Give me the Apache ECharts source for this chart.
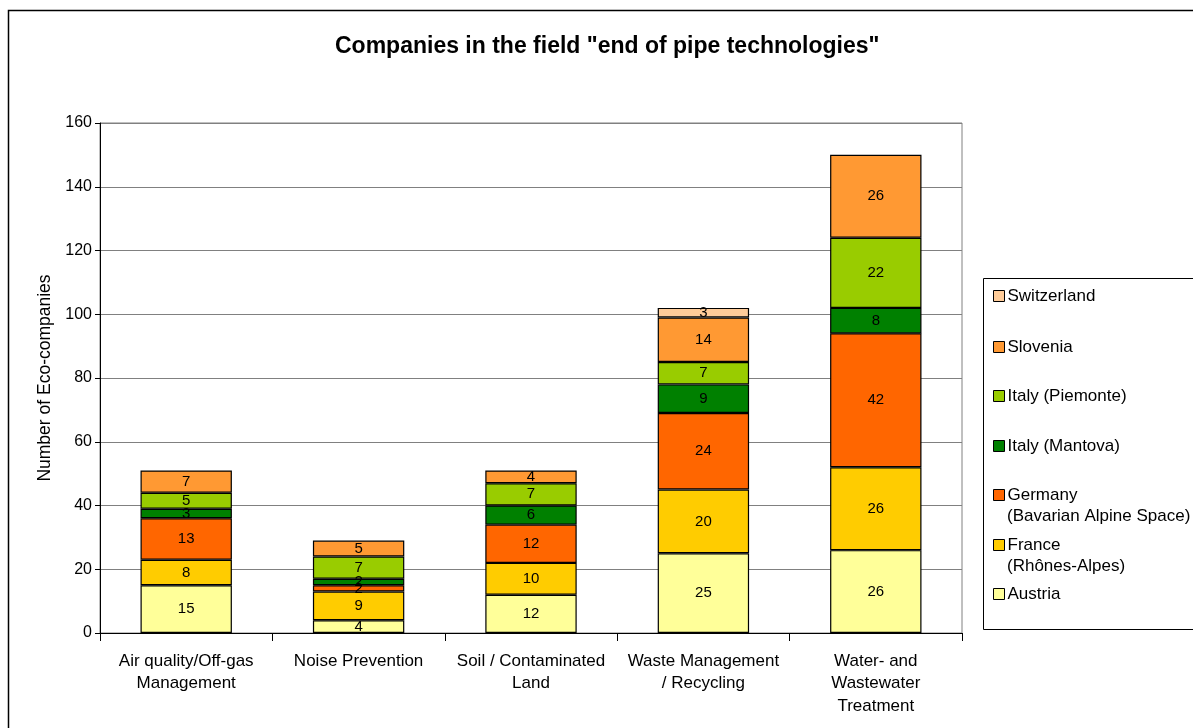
<!DOCTYPE html>
<html>
<head>
<meta charset="utf-8">
<script src="https://cdn.jsdelivr.net/npm/echarts@6/dist/echarts.min.js"></script>
<style>
  html, body { margin: 0; padding: 0; background: #fff; }
  #main { width: 1193px; height: 728px; }
</style>
</head>
<body>
<div id="main"></div>
<script>
var chart = echarts.init(document.getElementById('main'));

var categories = ['Air quality/Off-gas\nManagement', 'Noise Prevention', 'Soil / Contaminated\nLand', 'Waste Management\n/ Recycling', 'Water- and\nWastewater\nTreatment'];

var austria     = [15, 4, 12, 25, 26];
var france      = [8, 9, 10, 20, 26];
var germany     = [13, 2, 12, 24, 42];
var mantova     = [3, 2, 6, 9, 8];
var piemonte    = [5, 7, 7, 7, 22];
var slovenia    = [7, 5, 4, 14, 26];
var switzerland = [null, null, null, 3, null];

var seriesNames = ['Austria', 'France', 'Germany', 'Italy (Mantova)', 'Italy (Piemonte)', 'Slovenia', 'Switzerland'];
var subNames = { 'France': '(Rhônes-Alpes)', 'Germany': '(Bavarian Alpine Space)' };
var seriesData = [austria, france, germany, mantova, piemonte, slovenia, switzerland];
var colors = ['#FFFF99', '#FFCC00', '#FF6600', '#008000', '#99CC00', '#FF9933', '#FFCC99'];

var font = 'Liberation Sans, Arial, sans-serif';

var series = seriesNames.map(function (name, i) {
    return {
        name: name,
        type: 'bar',
        stack: 'total',
        barCategoryGap: '47%',
        data: seriesData[i],
        itemStyle: { color: colors[i], borderColor: '#000', borderWidth: 1.2 },
        label: {
            show: true,
            position: 'inside',
            color: '#000',
            fontFamily: font,
            fontSize: 15,
            formatter: function (p) { return p.value ? p.value : ''; }
        },
        emphasis: { disabled: true }
    };
});

// one legend per entry, listed top to bottom in reverse stack order
var legendRows = [296, 347, 396, 446, 495, 545, 594];
var legends = [];
var graphics = [
    { type: 'rect', shape: { x: 8.5, y: 10.5, width: 1250, height: 800 },
      style: { fill: 'none', stroke: '#000', lineWidth: 1.5 }, silent: true },
    { type: 'rect', shape: { x: 983.5, y: 278.5, width: 260, height: 351 },
      style: { fill: 'none', stroke: '#000', lineWidth: 1 }, silent: true, z: -1 }
];
for (var k = 0; k < seriesNames.length; k++) {
    var name = seriesNames[seriesNames.length - 1 - k];
    legends.push({
        data: [name],
        left: 988,
        top: legendRows[k] - 15.5,
        itemWidth: 11,
        itemHeight: 11,
        itemGap: 0,
        selectedMode: false,
        icon: 'rect',
        itemStyle: { borderColor: '#000', borderWidth: 1 },
        textStyle: { fontFamily: font, fontSize: 17, color: '#000', lineHeight: 21, padding: [0, 0, 0, -2] }
    });
    if (subNames[name]) {
        graphics.push({
            type: 'text', left: 1007, top: legendRows[k] + 13,
            style: { text: subNames[name], font: '17px ' + font, fill: '#000' },
            silent: true
        });
    }
}

var option = {
    animation: false,
    title: {
        text: 'Companies in the field "end of pipe technologies"',
        left: 330,
        top: 30,
        textStyle: { fontFamily: font, fontSize: 23, fontWeight: 'bold', color: '#000' }
    },
    legend: legends,
    graphic: graphics,
    grid: {
        left: 100, right: 231, top: 123, bottom: 95,
        show: true, borderColor: '#808080', borderWidth: 1
    },
    xAxis: {
        type: 'category',
        data: categories,
        axisLine: { lineStyle: { color: '#000', width: 1 } },
        axisTick: { show: true, length: 8, lineStyle: { color: '#000' } },
        axisLabel: { color: '#000', fontFamily: font, fontSize: 17, lineHeight: 22.5, margin: 17, interval: 0 }
    },
    yAxis: {
        type: 'value',
        min: 0, max: 160, interval: 20,
        name: 'Number of Eco-companies',
        nameLocation: 'middle',
        nameGap: 45,
        nameTextStyle: { color: '#000', fontFamily: font, fontSize: 17.5 },
        axisLine: { show: true, lineStyle: { color: '#000', width: 1 } },
        axisTick: { show: true, length: 5, lineStyle: { color: '#000' } },
        axisLabel: { color: '#000', fontFamily: font, fontSize: 16, margin: 8 },
        splitLine: { lineStyle: { color: '#808080', width: 1 } }
    },
    series: series
};

chart.setOption(option);
</script>
</body>
</html>
